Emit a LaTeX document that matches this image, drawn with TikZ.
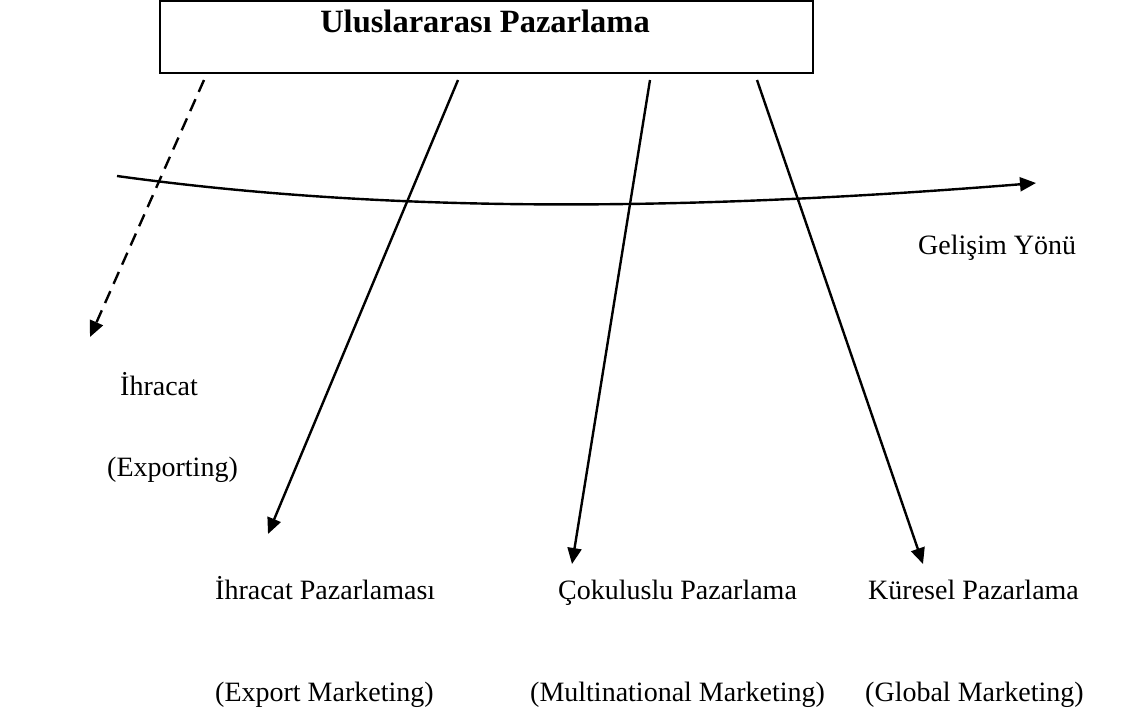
\documentclass[tikz,border=0pt]{standalone}
\usepackage{fontspec}
\setmainfont{Liberation Serif}
\usetikzlibrary{arrows.meta}
\begin{document}
\begin{tikzpicture}[x=1pt,y=-1pt,
  label/.style={anchor=base west,inner sep=0pt,font=\fontsize{28}{34}\selectfont},
  arrowline/.style={line width=2.4pt,-{Triangle[length=16pt,width=14pt]}},
  dashline/.style={arrowline,dash pattern=on 13pt off 8pt},
  titlebox/.style={draw,line width=2.4pt,minimum width=653pt,minimum height=72pt,inner sep=0pt}]
\useasboundingbox (0,0) rectangle (1124,715);
% main box and its title
\node[titlebox] (box) at (486.5,37) {};
\node[anchor=base,inner sep=0pt,font=\fontsize{32.5}{39}\bfseries\selectfont] (title) at (485,32) {Uluslararası Pazarlama};
% start and end points of the four branches
\coordinate (s1) at (204,80);
\coordinate (s2) at (458,80);
\coordinate (s3) at (650,80);
\coordinate (s4) at (757,80);
\coordinate (e1) at (90,337);
\coordinate (e2) at (268,534);
\coordinate (e3) at (572,564);
\coordinate (e4) at (923,564);
\draw[dashline] (s1) -- (e1);
\draw[arrowline] (s2) -- (e2);
\draw[arrowline] (s3) -- (e3);
\draw[arrowline] (s4) -- (e4);
% development direction
\coordinate (g0) at (117,176);
\coordinate (g1) at (1036,183);
\draw[arrowline] (g0) .. controls (400,215) and (700,210) .. (g1);
\node[label] (dir) at (918,254) {Gelişim Yönü};
% labels
\node[label] (l1a) at (120,395) {İhracat};
\node[label] (l1b) at (107,476) {(Exporting)};
\node[label] (l2a) at (215,599) {İhracat Pazarlaması};
\node[label] (l2b) at (215,701) {(Export Marketing)};
\node[label] (l3a) at (558,599) {Çokuluslu Pazarlama};
\node[label] (l3b) at (530,701) {(Multinational Marketing)};
\node[label] (l4a) at (868,599) {Küresel Pazarlama};
\node[label] (l4b) at (865,701) {(Global Marketing)};
\end{tikzpicture}
\end{document}
